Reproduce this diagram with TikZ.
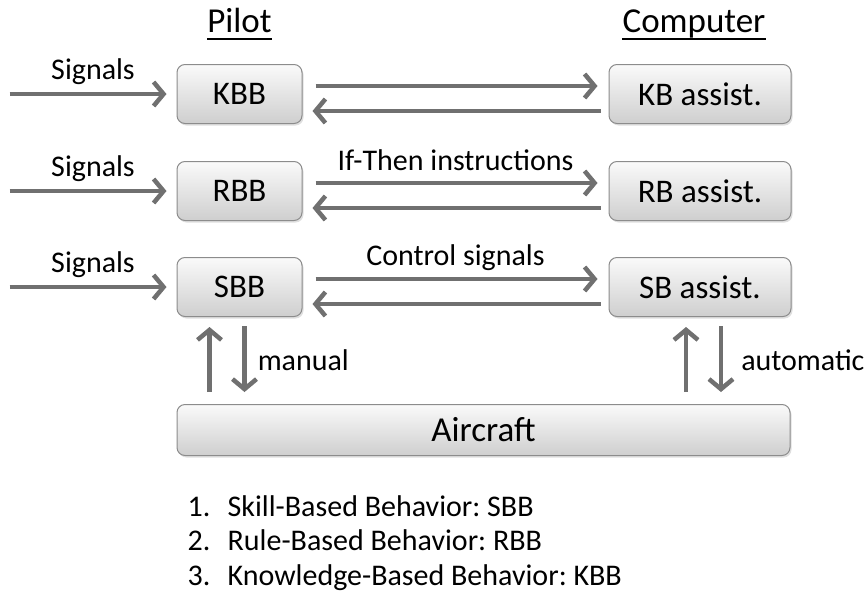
\documentclass[tikz,border=0pt]{standalone}
\usepackage{fontspec}
\setmainfont{Carlito}
\frenchspacing
\usetikzlibrary{arrows.meta, positioning, shadows}
\definecolor{arrowgray}{RGB}{112,112,112}
\definecolor{boxedge}{RGB}{140,140,140}
\tikzstyle{level} = [rectangle, rounded corners=8pt, minimum width=125pt, minimum height=59pt, text centered, top color=gray!4, bottom color=gray!38, draw=boxedge, line width=1pt, drop shadow={opacity=0.25, shadow xshift=1.5pt, shadow yshift=-2pt}, font=\fontsize{33}{38}\selectfont]
\tikzstyle{assist} = [level, minimum width=182pt]
\tikzstyle{head} = [inner xsep=0pt, inner ysep=6pt, text depth=0pt, font=\fontsize{35}{40}\selectfont]
\tikzstyle{sigtext} = [inner sep=2pt, font=\fontsize{30}{36}\selectfont]
\tikzstyle{arrow} = [line width=4.5pt, draw=arrowgray, -{Straight Barb[length=10pt,width=24pt]}]

\begin{document}
\begin{tikzpicture}[x=1pt, y=1pt]
\useasboundingbox (0,0) rectangle (868,-592);

% Pilot side
\node (kbb) [level] at (239.5,-94) {KBB};
\node (rbb) [level, below=37pt of kbb] {RBB};
\node (sbb) [level, below=36pt of rbb] {SBB};

% Computer side
\node (kbassist) [assist, right=306pt of kbb] {KB assist.};
\node (rbassist) [assist, right=306pt of rbb] {RB assist.};
\node (sbassist) [assist, right=306pt of sbb] {SB assist.};

\node (aircraft) [level, minimum width=613pt, minimum height=51pt, font=\fontsize{35}{40}\selectfont, below=87pt of sbb.south west, anchor=north west] {Aircraft};

% Headers
\node (pilot) [head, above=25pt of kbb] {Pilot};
\node (computer) [head, above=25pt of kbassist, xshift=-6pt] {Computer};
\draw[line width=1.6pt] (pilot.south west) -- (pilot.south east);
\draw[line width=1.6pt] (computer.south west) -- (computer.south east);

% Incoming signals
\coordinate [left=167pt of kbb] (sigk);
\coordinate [left=167pt of rbb] (sigr);
\coordinate [left=167pt of sbb] (sigs);
\draw[arrow, shorten >=10pt] (sigk) -- node[sigtext, above=5pt] {Signals} (kbb);
\draw[arrow, shorten >=10pt] (sigr) -- node[sigtext, above=5pt] {Signals} (rbb);
\draw[arrow, shorten >=10pt] (sigs) -- node[sigtext, above=5pt] {Signals} (sbb);

% Pilot <-> computer
\draw[arrow, shorten <=13pt, shorten >=11pt] ([yshift=8pt]kbb.east) -- ([yshift=8pt]kbassist.west);
\draw[arrow, shorten <=8pt, shorten >=10pt] ([yshift=-17pt]kbassist.west) -- ([yshift=-17pt]kbb.east);

\draw[arrow, shorten <=13pt, shorten >=11pt] ([yshift=8pt]rbb.east) -- node[sigtext, above=8pt] {If-Then instructions} ([yshift=8pt]rbassist.west);
\draw[arrow, shorten <=8pt, shorten >=10pt] ([yshift=-17pt]rbassist.west) -- ([yshift=-17pt]rbb.east);

\draw[arrow, shorten <=13pt, shorten >=11pt] ([yshift=8pt]sbb.east) -- node[sigtext, above=4pt] {Control signals} ([yshift=8pt]sbassist.west);
\draw[arrow, shorten <=8pt, shorten >=10pt] ([yshift=-17pt]sbassist.west) -- ([yshift=-17pt]sbb.east);

% Aircraft links
\draw[arrow, shorten <=12pt, shorten >=10pt] ([xshift=-30pt]sbb.south |- aircraft.north) -- ([xshift=-30pt]sbb.south);
\draw[arrow, shorten <=9pt, shorten >=12pt] ([xshift=5pt]sbb.south) -- node[sigtext, right=9pt] {manual} ([xshift=5pt]sbb.south |- aircraft.north);
\draw[arrow, shorten <=12pt, shorten >=10pt] ([xshift=-14pt]sbassist.south |- aircraft.north) -- ([xshift=-14pt]sbassist.south);
\draw[arrow, shorten <=9pt, shorten >=12pt] ([xshift=21pt]sbassist.south) -- node[sigtext, right=16pt] {automatic} ([xshift=21pt]sbassist.south |- aircraft.north);

% Legend
\node (item1) [sigtext, anchor=base west] at ([shift={(9pt,-60pt)}]aircraft.south west) {\makebox[40pt][l]{1.}Skill-Based Behavior: SBB};
\node (item2) [sigtext, below=34.5pt of item1.base west, anchor=base west] {\makebox[40pt][l]{2.}Rule-Based Behavior: RBB};
\node (item3) [sigtext, below=34.5pt of item2.base west, anchor=base west] {\makebox[40pt][l]{3.}Knowledge-Based Behavior: KBB};

\end{tikzpicture}
\end{document}
